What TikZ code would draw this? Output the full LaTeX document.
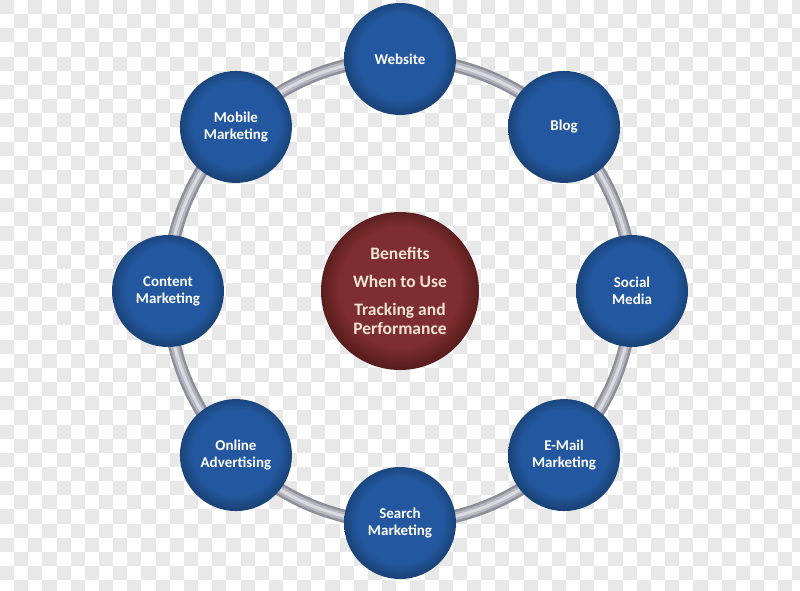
\documentclass[tikz,border=0pt]{standalone}
\usepackage{fontspec}
\setmainfont{Carlito}
\usetikzlibrary{backgrounds}
\definecolor{bl1}{HTML}{2358A0}
\definecolor{bl2}{HTML}{1A4479}
\definecolor{rd1}{HTML}{7E2E2E}
\definecolor{rd2}{HTML}{5A1D1D}
\definecolor{chk}{HTML}{E8E8E8}
\definecolor{ring1}{HTML}{8E8E9A}
\definecolor{ring2}{HTML}{B6B6C0}
\definecolor{ring3}{HTML}{DADAE2}
\definecolor{cream}{HTML}{F3E4D2}
\pgfdeclareradialshading{blueball}{\pgfpoint{0bp}{2bp}}{color(0bp)=(bl1); color(19bp)=(bl1); color(25bp)=(bl2); color(50bp)=(bl2)}
\pgfdeclareradialshading{redball}{\pgfpoint{0bp}{2bp}}{color(0bp)=(rd1); color(19bp)=(rd1); color(25bp)=(rd2); color(50bp)=(rd2)}
\tikzset{
  bubble/.style={circle, minimum size=112pt, inner sep=0pt, shading=blueball,
    text=white, font=\fontsize{15}{17}\selectfont\bfseries, align=center},
  hub/.style={circle, minimum size=158pt, inner sep=0pt, shading=redball,
    text=cream, font=\fontsize{17.5}{19.5}\selectfont\bfseries, align=center},
  tile/.style={fill=chk},
  tubeA/.style={draw=ring1, line width=13pt},
  tubeB/.style={draw=ring2, line width=8pt},
  tubeC/.style={draw=ring3, line width=3pt}
}
\begin{document}
\begin{tikzpicture}[x=1pt,y=1pt]
\useasboundingbox (-400,-299) rectangle (400,291);
% hub and satellites
\node[hub] (hub) at (0,0) {Benefits\\[8.5pt]When to Use\\[8.5pt]Tracking and\\Performance};
\node[bubble] (n0) at (90:232)  {Website};
\node[bubble] (n1) at (45:232)  {Blog};
\node[bubble] (n2) at (0:232)   {Social\\Media};
\node[bubble] (n3) at (-45:232) {E-Mail\\Marketing};
\node[bubble] (n4) at (-90:232) {Search\\Marketing};
\node[bubble] (n5) at (-135:232){Online\\Advertising};
\node[bubble] (n6) at (180:232) {Content\\Marketing};
\node[bubble] (n7) at (135:232) {Mobile\\Marketing};
\begin{scope}[on background layer]
  \fill[white] (-400,-299) rectangle (400,291);
  \foreach \i in {0,...,56}{
    \foreach \j in {0,...,41}{
      \pgfmathtruncatemacro\k{mod(\i+\j,2)}
      \ifnum\k=0\relax
        \fill[tile] ({-400+\i*14.15},{291-\j*14.15}) rectangle ++(14.15,-14.15);
      \fi
    }
  }
  \foreach \s/\e/\a in {n0/n1/90, n1/n2/45, n2/n3/0, n3/n4/-45, n4/n5/-90, n5/n6/-135, n6/n7/-180, n7/n0/-225}{
    \draw[tubeA] (\s.center) arc[start angle=\a, end angle=\a-45, radius=232pt];
    \draw[tubeB] (\s.center) arc[start angle=\a, end angle=\a-45, radius=232pt];
    \draw[tubeC] (\s.center) arc[start angle=\a, end angle=\a-45, radius=232pt];
  }
\end{scope}
\end{tikzpicture}
\end{document}
